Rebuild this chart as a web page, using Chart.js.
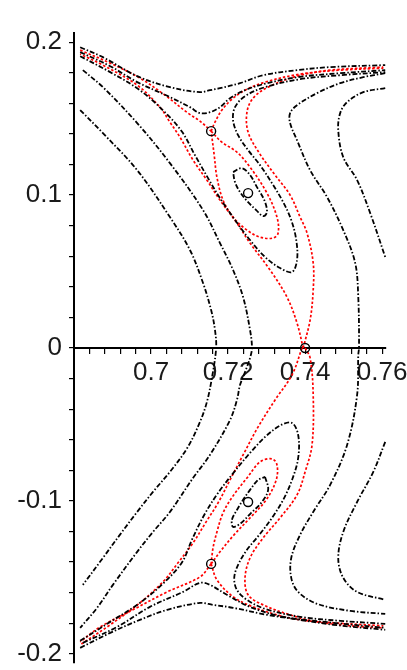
<!DOCTYPE html>
<html><head><meta charset="utf-8">
<script src="https://cdn.jsdelivr.net/npm/chart.js@4.4.1/dist/chart.umd.min.js"></script>
<style>html,body{margin:0;padding:0;background:#fff;overflow:hidden;width:407px;height:670px}#wrap{width:430px;height:670px}</style>
</head><body><div id="wrap"><canvas id="c" width="430" height="670"></canvas></div>
<script>
// Axis ranges and tick steps
const xRange = [0.68, 0.761];
const yRange = [-0.206, 0.206];
const xStep = 0.004;
const yStep = 0.02;

// Black trajectories [x, y]
const k1 = [[0.6816,0.1556],[0.6875,0.1405],[0.6964,0.1163],[0.7049,0.0856],[0.7101,0.0641],[0.7135,0.0425],[0.7156,0.0248],[0.7166,0.0118],[0.7169,0],[0.7158,-0.0196],[0.7145,-0.0353],[0.7127,-0.0484],[0.7094,-0.0654],[0.7049,-0.0810],[0.7005,-0.0941],[0.6964,-0.1072],[0.6919,-0.1222],[0.6875,-0.1373],[0.6823,-0.1549]];
const k2 = [[0.6823,0.1817],[0.6875,0.1706],[0.6964,0.1471],[0.7049,0.1209],[0.7135,0.0902],[0.7179,0.0686],[0.7213,0.0510],[0.7239,0.0333],[0.7257,0.0118],[0.7262,0],[0.7257,-0.0065],[0.7244,-0.0157],[0.7231,-0.0242],[0.7223,-0.0340],[0.7205,-0.0471],[0.7153,-0.0699],[0.7109,-0.0850],[0.7049,-0.1072],[0.7005,-0.1203],[0.6964,-0.1333],[0.6901,-0.1549],[0.6860,-0.1699],[0.6816,-0.1830]];
const k3 = [[0.7608,0.1797],[0.7551,0.1771],[0.7491,0.1732],[0.7431,0.1667],[0.7379,0.1588],[0.7361,0.1536],[0.7361,0.1471],[0.7379,0.1359],[0.7413,0.1163],[0.7457,0.0987],[0.7499,0.0771],[0.7530,0.0556],[0.7538,0.0333],[0.7540,0.0007],[0.7538,-0.0046],[0.7535,-0.0307],[0.7509,-0.0634],[0.7465,-0.0895],[0.7421,-0.1072],[0.7387,-0.1222],[0.7364,-0.1373],[0.7364,-0.1503],[0.7382,-0.1595],[0.7431,-0.1673],[0.7517,-0.1719],[0.7608,-0.1739]];
const k4Top = [[0.7608,0.1699],[0.7551,0.1673],[0.7509,0.1608],[0.7491,0.1536],[0.7486,0.1425],[0.7499,0.1248],[0.7535,0.1098],[0.7569,0.0882],[0.7608,0.0595]];
const k4Bottom = [[0.7608,-0.0614],[0.7577,-0.0810],[0.7535,-0.1007],[0.7499,-0.1203],[0.7486,-0.1373],[0.7499,-0.1503],[0.7535,-0.1595],[0.7608,-0.1647]];
const archTop = [[0.6816,0.1967],[0.6875,0.1902],[0.6964,0.1778],[0.7049,0.1706],[0.7127,0.1673],[0.7153,0.1686],[0.7179,0.1699],[0.7231,0.1732],[0.7291,0.1784],[0.7379,0.1817],[0.7465,0.1837],[0.7608,0.1850]];
const archBottom = [[0.6816,-0.1961],[0.6894,-0.1863],[0.6971,-0.1778],[0.7042,-0.1712],[0.7127,-0.1667],[0.7161,-0.1680],[0.7213,-0.1699],[0.7301,-0.1745],[0.7387,-0.1778],[0.7473,-0.1810],[0.7608,-0.1843]];
const innerArchTop = [[0.6816,0.1935],[0.6894,0.1843],[0.6964,0.1739],[0.7049,0.1641],[0.7101,0.1575],[0.7127,0.1536],[0.7153,0.1542],[0.7179,0.1575],[0.7205,0.1634],[0.7244,0.1686],[0.7291,0.1725],[0.7379,0.1771],[0.7491,0.1797],[0.7608,0.1817]];
const innerArchBottom = [[0.6823,-0.1928],[0.6912,-0.1824],[0.6997,-0.1693],[0.7083,-0.1595],[0.7127,-0.1536],[0.7153,-0.1549],[0.7197,-0.1614],[0.7257,-0.1693],[0.7343,-0.1758],[0.7473,-0.1797],[0.7608,-0.1830]];
const loopTop = [[0.6816,0.1908],[0.6894,0.1804],[0.6971,0.1686],[0.7036,0.1542],[0.7081,0.1412],[0.7114,0.1261],[0.7148,0.1111],[0.7179,0.0980],[0.7218,0.0837],[0.7257,0.0706],[0.7296,0.0595],[0.7335,0.0523],[0.7366,0.0497],[0.7379,0.0575],[0.7377,0.0706],[0.7364,0.0837],[0.7343,0.0954],[0.7314,0.1078],[0.7283,0.1196],[0.7252,0.1294],[0.7226,0.1392],[0.7213,0.1490],[0.7218,0.1575],[0.7244,0.1647],[0.7296,0.1706],[0.7387,0.1758],[0.7491,0.1784],[0.7608,0.1804]];
const loopBottom = [[0.6816,-0.1915],[0.6894,-0.1791],[0.6971,-0.1667],[0.7036,-0.1529],[0.7081,-0.1399],[0.7106,-0.1255],[0.7138,-0.1092],[0.7174,-0.0948],[0.7216,-0.0810],[0.7257,-0.0686],[0.7299,-0.0575],[0.7338,-0.0503],[0.7366,-0.0490],[0.7382,-0.0569],[0.7382,-0.0719],[0.7366,-0.0863],[0.7343,-0.0993],[0.7314,-0.1111],[0.7281,-0.1222],[0.7249,-0.1320],[0.7226,-0.1418],[0.7216,-0.1503],[0.7223,-0.1582],[0.7249,-0.1647],[0.7296,-0.1706],[0.7387,-0.1758],[0.7491,-0.1784],[0.7608,-0.1804]];
const coreTop = [[0.7213,0.1150],[0.7236,0.1176],[0.7257,0.1131],[0.7275,0.1052],[0.7294,0.0967],[0.7301,0.0889],[0.7291,0.0863],[0.7273,0.0902],[0.7252,0.0954],[0.7231,0.1020],[0.7218,0.1085],[0.7213,0.1150]];
const coreBottom = [[0.7296,-0.0843],[0.7304,-0.0928],[0.7286,-0.1013],[0.7260,-0.1078],[0.7234,-0.1144],[0.7213,-0.1170],[0.7210,-0.1124],[0.7223,-0.1059],[0.7239,-0.0993],[0.7257,-0.0928],[0.7278,-0.0863],[0.7296,-0.0843]];

// Red separatrices [x, y]
const sepRightTop = [[0.7395,0],[0.7413,0.0183],[0.7421,0.0379],[0.7421,0.0556],[0.7405,0.0752],[0.7387,0.0856],[0.7361,0.1000],[0.7322,0.1131],[0.7281,0.1275],[0.7252,0.1412],[0.7249,0.1542],[0.7265,0.1634],[0.7304,0.1706],[0.7379,0.1778],[0.7465,0.1817],[0.7603,0.1837]];
const sepLeftTop = [[0.7395,0],[0.7379,0.0163],[0.7353,0.0333],[0.7309,0.0510],[0.7257,0.0686],[0.7223,0.0817],[0.7179,0.0967],[0.7145,0.1098],[0.7109,0.1229],[0.7075,0.1379],[0.7049,0.1477],[0.7023,0.1575],[0.6964,0.1719],[0.6875,0.1850],[0.6816,0.1922]];
const saddleLeftTop = [[0.6816,0.1948],[0.6894,0.1863],[0.6971,0.1765],[0.7036,0.1654],[0.7096,0.1536],[0.7127,0.1484],[0.7156,0.1418]];
const saddleRightTop = [[0.7156,0.1418],[0.7166,0.1477],[0.7184,0.1556],[0.7210,0.1627],[0.7244,0.1686],[0.7296,0.1739],[0.7387,0.1791],[0.7491,0.1817],[0.7603,0.1830]];
const teardropTop = [[0.7156,0.1418],[0.7184,0.1346],[0.7223,0.1281],[0.7257,0.1183],[0.7301,0.1013],[0.7327,0.0856],[0.7330,0.0752],[0.7317,0.0719],[0.7283,0.0725],[0.7249,0.0771],[0.7213,0.0856],[0.7187,0.0967],[0.7171,0.1118],[0.7164,0.1261],[0.7156,0.1418]];
const sepRightBottom = [[0.7400,0],[0.7413,-0.0065],[0.7421,-0.0307],[0.7418,-0.0634],[0.7400,-0.0810],[0.7379,-0.0961],[0.7335,-0.1111],[0.7291,-0.1242],[0.7257,-0.1373],[0.7244,-0.1503],[0.7252,-0.1614],[0.7291,-0.1680],[0.7361,-0.1745],[0.7431,-0.1791],[0.7551,-0.1824],[0.7603,-0.1830]];
const sepLeftBottom = [[0.7392,0],[0.7366,-0.0176],[0.7322,-0.0340],[0.7278,-0.0516],[0.7239,-0.0699],[0.7205,-0.0863],[0.7174,-0.1013],[0.7143,-0.1137],[0.7109,-0.1275],[0.7070,-0.1405],[0.7031,-0.1529],[0.6971,-0.1667],[0.6894,-0.1810],[0.6816,-0.1941]];
const saddleLeftBottom = [[0.7156,-0.1412],[0.7127,-0.1497],[0.7042,-0.1595],[0.6953,-0.1712],[0.6868,-0.1824],[0.6816,-0.1922]];
const saddleRightBottom = [[0.7156,-0.1412],[0.7171,-0.1516],[0.7213,-0.1627],[0.7265,-0.1693],[0.7327,-0.1745],[0.7387,-0.1778],[0.7473,-0.1797],[0.7603,-0.1817]];
const teardropBottom = [[0.7156,-0.1412],[0.7179,-0.1333],[0.7213,-0.1229],[0.7257,-0.1111],[0.7299,-0.0993],[0.7325,-0.0863],[0.7327,-0.0765],[0.7314,-0.0725],[0.7283,-0.0745],[0.7249,-0.0850],[0.7213,-0.0967],[0.7187,-0.1078],[0.7171,-0.1203],[0.7161,-0.1307],[0.7156,-0.1412]];

// Equilibrium points [x, y]
const fixedPoints = [[0.7156,0.1418],[0.7252,0.1013],[0.7400,0],[0.7156,-0.1412],[0.7252,-0.1007]];

const blackCurves = [k1,k2,k3,k4Top,k4Bottom,archTop,archBottom,innerArchTop,innerArchBottom,loopTop,loopBottom,coreTop,coreBottom];
const redCurves = [sepRightTop,sepLeftTop,saddleLeftTop,saddleRightTop,teardropTop,sepRightBottom,sepLeftBottom,saddleLeftBottom,saddleRightBottom,teardropBottom];

const toPts = a => a.map(p => ({x: p[0], y: p[1]}));
const datasets = [{
  data: toPts(fixedPoints), showLine: false, pointRadius: 4.5, pointBorderWidth: 1.4,
  pointBackgroundColor: 'rgba(0,0,0,0)', pointBorderColor: '#000'
}];
blackCurves.forEach(c => datasets.push({data: toPts(c), showLine: true, borderColor: '#000', borderWidth: 1.8, borderDash: [5,2,1.5,2], tension: 0.35, pointRadius: 0, fill: false}));
redCurves.forEach(c => datasets.push({data: toPts(c), showLine: true, borderColor: '#ff0000', borderWidth: 1.7, borderDash: [2.5,2], tension: 0.35, pointRadius: 0, fill: false}));

const font = {family: "'Liberation Sans', Arial, sans-serif", size: 26};
new Chart(document.getElementById('c'), {
  type: 'scatter',
  data: {datasets},
  options: {
    responsive: false, animation: false, devicePixelRatio: 1,
    layout: {padding: {left: 0, right: 44, top: 33, bottom: 7}},
    plugins: {legend: {display: false}, tooltip: {enabled: false}},
    scales: {
      x: {
        type: 'linear', min: xRange[0], max: xRange[1], position: {y: 0},
        border: {color: '#000', width: 2},
        grid: {drawOnChartArea: false, color: '#000', tickLength: 5, lineWidth: 1.2},
        ticks: {stepSize: xStep, autoSkip: false, maxRotation: 0, includeBounds: false, padding: 4, color: '#1a1a1a', font,
          callback: v => { const m = Math.round(v * 1000); return (m % 20 === 0 && m > 680) ? String(m / 1000) : ''; }},
        afterFit: s => { s.height = 0; s.paddingLeft = 0; s.paddingRight = 0; }
      },
      y: {
        type: 'linear', min: yRange[0], max: yRange[1], position: 'left',
        border: {color: '#000', width: 2},
        grid: {drawOnChartArea: false, color: '#000', tickLength: 5, lineWidth: 1.2},
        ticks: {stepSize: yStep, autoSkip: false, includeBounds: false, padding: 7, color: '#1a1a1a', font,
          callback: v => { const m = Math.round(v * 100); return (m % 10 === 0) ? (m === 0 ? '0' : String(m / 100)) : ''; }},
        afterFit: s => { s.width = 74; s.paddingTop = 0; s.paddingBottom = 0; }
      }
    }
  }
});
</script></body></html>
